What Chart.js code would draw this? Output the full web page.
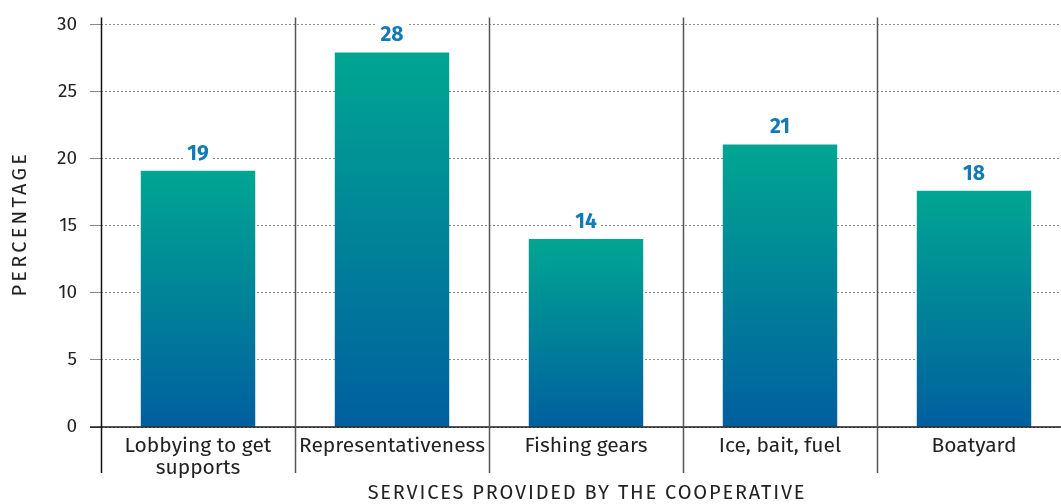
<!DOCTYPE html>
<html>
<head>
<meta charset="utf-8">
<script src="https://cdn.jsdelivr.net/npm/chart.js@4/dist/chart.umd.min.js"></script>
<style>
  html, body { margin: 0; padding: 0; background: #fff; overflow: hidden; }
  #wrap { width: 1071px; height: 504px; }
</style>
</head>
<body>
<div id="wrap"><canvas id="chart" width="1071" height="504"></canvas></div>
<script>
const categories = [['Lobbying to get', 'supports'], 'Representativeness', 'Fishing gears', 'Ice, bait, fuel', 'Boatyard'];
const values = [19.1, 27.9, 14, 21.05, 17.6];
const yTicks = [0, 5, 10, 15, 20, 25, 30];

const FONT = '"Fira Sans", "Open Sans", "Noto Sans", sans-serif';

// per-bar vertical gradient, teal on top -> blue at base
const barGradient = (context) => {
  const {chart, dataIndex} = context;
  const {ctx, scales} = chart;
  if (!scales.y) return '#0a8aa0';
  const top = scales.y.getPixelForValue(values[dataIndex]);
  const bottom = scales.y.getPixelForValue(0);
  if (!Number.isFinite(top) || !Number.isFinite(bottom)) return '#0a8aa0';
  const g = ctx.createLinearGradient(0, top, 0, bottom);
  g.addColorStop(0, '#00a692');
  g.addColorStop(1, '#005f9f');
  return g;
};

const decorations = {
  id: 'decorations',
  afterDatasetsDraw: (chart) => {
    const {ctx, chartArea, scales: {x, y}} = chart;
    ctx.save();

    // zero line
    const y0 = y.getPixelForValue(0);
    ctx.strokeStyle = 'rgba(0,0,0,0.66)';
    ctx.lineWidth = 2;
    ctx.beginPath();
    ctx.moveTo(chartArea.left - 11, y0);
    ctx.lineTo(chartArea.right, y0);
    ctx.stroke();

    // category separators
    const step = (x.getPixelForValue(1) - x.getPixelForValue(0));
    for (let i = 0; i <= categories.length; i++) {
      const px = Math.round(x.getPixelForValue(i) - step / 2) + 0.5;
      ctx.strokeStyle = i === 0 ? '#111' : '#555';
      ctx.lineWidth = 1.5;
      ctx.beginPath();
      ctx.moveTo(px, chartArea.top - 7);
      ctx.lineTo(px, chartArea.bottom + 46);
      ctx.stroke();
    }

    // value labels with white box
    ctx.font = 'bold 21px ' + FONT;
    ctx.textAlign = 'center';
    ctx.textBaseline = 'middle';
    values.forEach((v, i) => {
      const px = x.getPixelForValue(i);
      const py = y.getPixelForValue(v) - 18;
      const txt = String(Math.round(v));
      const w = ctx.measureText(txt).width;
      ctx.fillStyle = '#fff';
      ctx.fillRect(px - w / 2 - 4, py - 11, w + 8, 22);
      ctx.fillStyle = '#137bb4';
      ctx.fillText(txt, px, py + 1);
    });

    // axis titles
    ctx.fillStyle = '#222';
    ctx.font = '20px ' + FONT;
    ctx.letterSpacing = '1.8px';
    ctx.textAlign = 'center';
    ctx.fillText('SERVICES PROVIDED BY THE COOPERATIVE', (chartArea.left + chartArea.right) / 2 + 1, 493);

    ctx.save();
    ctx.translate(20, (chartArea.top + chartArea.bottom) / 2);
    ctx.rotate(-Math.PI / 2);
    ctx.font = '20px ' + FONT;
    ctx.letterSpacing = '3.2px';
    ctx.fillText('PERCENTAGE', 2, 0);
    ctx.restore();

    ctx.restore();
  }
};

new Chart(document.getElementById('chart'), {
  type: 'bar',
  data: {
    labels: categories,
    datasets: [{
      data: values,
      backgroundColor: barGradient,
      borderWidth: 0,
      categoryPercentage: 1,
      barPercentage: 0.59
    }]
  },
  options: {
    responsive: false,
    animation: false,
    layout: {padding: {top: 22, left: 0, right: 0, bottom: 0}},
    plugins: {legend: {display: false}, tooltip: {enabled: false}},
    scales: {
      x: {
        grid: {display: false},
        border: {display: false},
        ticks: {
          color: '#222',
          padding: 0,
          maxRotation: 0,
          autoSkip: false,
          font: {family: FONT, size: 21, lineHeight: 1.05}
        },
        afterFit: (scale) => { scale.height = 77; }
      },
      y: {
        min: 0,
        max: 30,
        afterBuildTicks: (scale) => { scale.ticks = yTicks.map(v => ({value: v})); },
        grid: {
          color: '#8a8a8a',
          lineWidth: 1,
          tickLength: 11,
          tickColor: '#8a8a8a'
        },
        border: {display: false, dash: [2, 2]},
        ticks: {
          color: '#222',
          padding: 13,
          font: {family: FONT, size: 19}
        },
        afterFit: (scale) => { scale.width = 101; }
      }
    }
  },
  plugins: [decorations]
});
</script>
</body>
</html>
